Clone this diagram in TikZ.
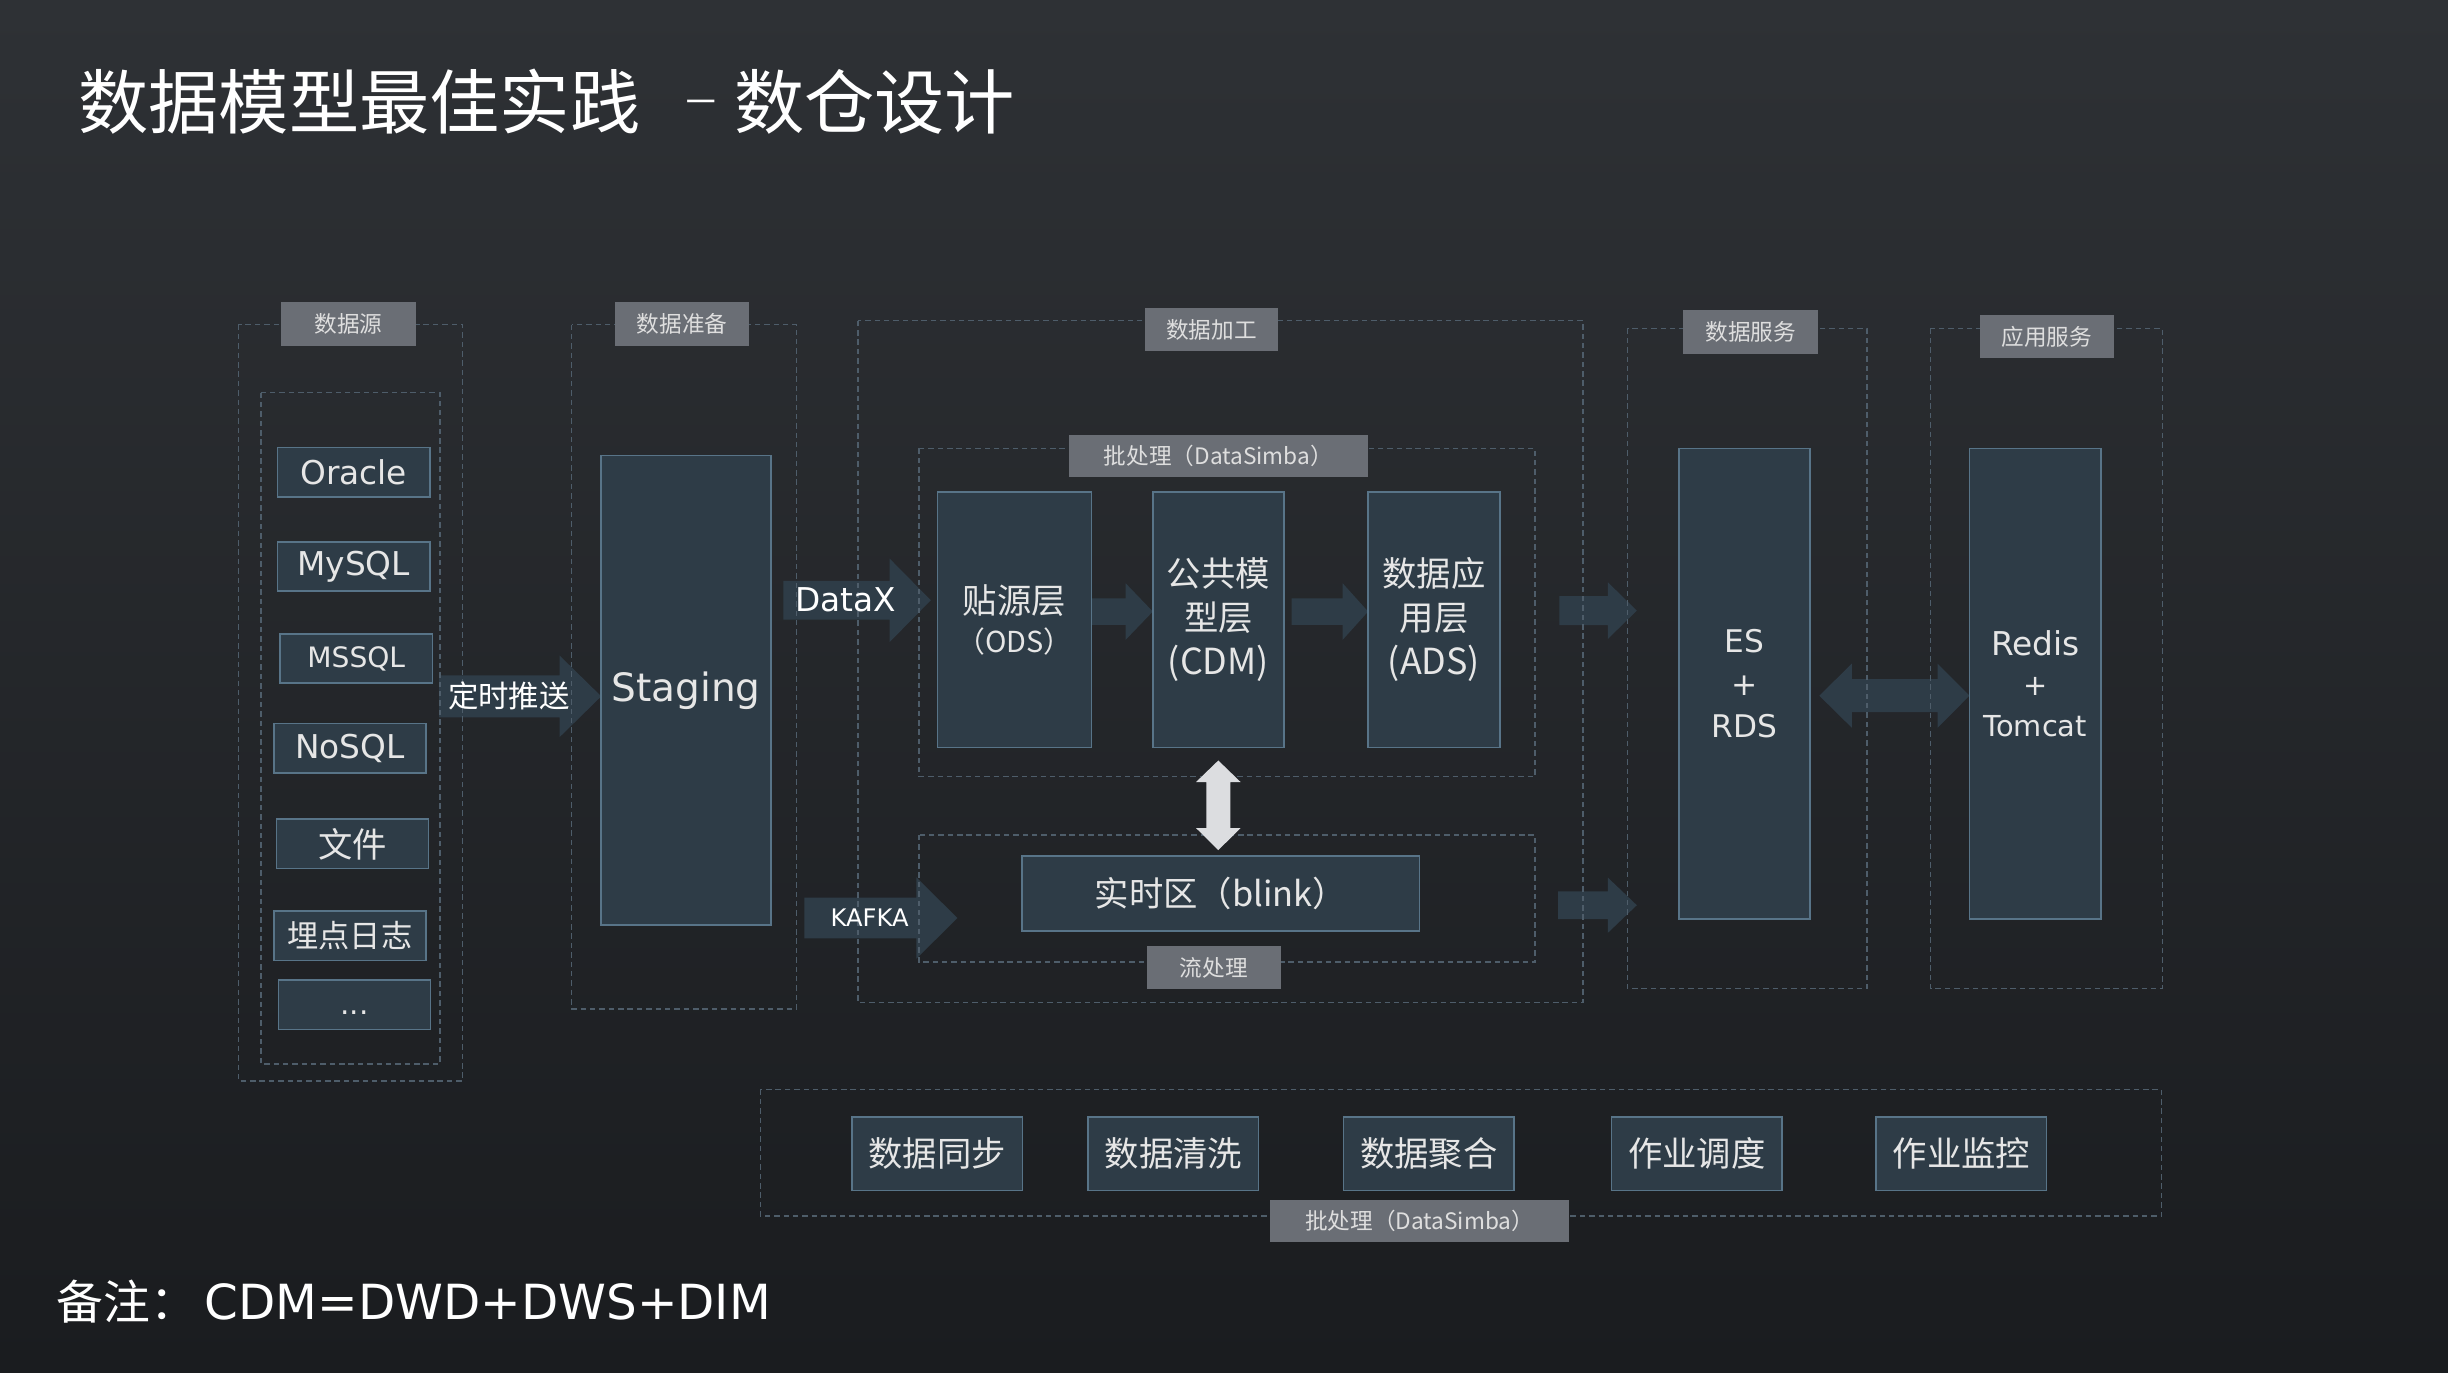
\documentclass[tikz,border=0pt]{standalone}
\usepackage{fontspec}
\setmainfont{Noto Sans CJK SC}
\newfontfamily\latf{DejaVu Sans}
\usetikzlibrary{calc}
\definecolor{bgtop}{RGB}{46,49,53}
\definecolor{bgbot}{RGB}{26,28,31}
\definecolor{dashc}{RGB}{78,93,106}
\definecolor{tagfill}{RGB}{106,110,117}
\definecolor{tagtext}{RGB}{222,222,222}
\definecolor{boxfill}{RGB}{46,60,71}
\definecolor{boxline}{RGB}{88,116,136}
\definecolor{boxtext}{RGB}{230,230,230}
\definecolor{lightarrow}{RGB}{220,221,224}
\newcommand{\fsz}[2]{\fontsize{#1}{#2}\selectfont}
% block arrow: style, from, to, body half, head half, head length
\newcommand{\blockarrow}[6]{%
  \fill[#1] let \p1=(#2), \p2=(#3) in
   (\x1,\y2+#4pt) -- (\x2-#6pt,\y2+#4pt) -- (\x2-#6pt,\y2+#5pt) -- (\x2,\y2)
   -- (\x2-#6pt,\y2-#5pt) -- (\x2-#6pt,\y2-#4pt) -- (\x1,\y2-#4pt) -- cycle;}
\tikzset{
  grp/.style={draw=dashc, line width=0.9pt, dash pattern=on 3.5pt off 2.5pt},
  tag/.style={fill=tagfill, text=tagtext, inner sep=0pt, font=\fsz{14.5}{17}},
  box/.style={draw=boxline, fill=boxfill, line width=1pt, inner sep=0pt, text=boxtext, align=center},
  srcbox/.style={box, minimum width=97.5pt, minimum height=31.6pt},
  botbox/.style={box, minimum width=109.2pt, minimum height=47.1pt, font=\fsz{22}{26}},
  darrow/.style={fill=boxfill},
  arrowtext/.style={text=white, inner sep=0pt},
}
\begin{document}
\begin{tikzpicture}[x=1pt,y=-1pt]
\useasboundingbox (0,0) rectangle (1568,879);
\shade[top color=bgtop, bottom color=bgbot] (0,0) rectangle (1568,879);

% ---------- title and note ----------
\node[anchor=west, text=white, inner sep=0pt, font=\fsz{45}{54}] (title) at (50,65) {数据模型最佳实践\hspace{27pt}\raisebox{8pt}{\fsz{24}{24}－}\hspace{9pt}数仓设计};
\node[anchor=west, text=white, inner sep=0pt, font=\fsz{30}{36}] (note) at (36,834) {备注：\hspace{5pt}{\latf\fsz{31}{36}CDM=DWD+DWS+DIM}};

% ---------- arrow coordinates ----------
\coordinate (ta1) at (281.3,446);   \coordinate (ta2) at (385.1,446);
\coordinate (dx1) at (501.7,384.5); \coordinate (dx2) at (596.2,384.5);
\coordinate (kf1) at (515.2,588);   \coordinate (kf2) at (613.2,588);
\coordinate (oc1) at (699.2,391.7); \coordinate (oc2) at (738.4,391.7);
\coordinate (ca1) at (827.3,391.7); \coordinate (ca2) at (876.3,391.7);
\coordinate (ur1) at (998.8,391.1); \coordinate (ur2) at (1048.4,391.1);
\coordinate (lr1) at (998.0,579.8); \coordinate (lr2) at (1048.4,579.8);
\coordinate (dh1) at (1165.3,445.6); \coordinate (dh2) at (1261.5,445.6);
\coordinate (dv1) at (780.35,487.1); \coordinate (dv2) at (780.35,544.5);

% ---------- dark block arrows (under dashed frames) ----------
\blockarrow{darrow}{ta1}{ta2}{13.45}{26.15}{26.7}
\blockarrow{darrow}{dx1}{dx2}{12.4}{26.75}{26.4}
\blockarrow{darrow}{kf1}{kf2}{13.1}{26.05}{26.2}
\blockarrow{darrow}{oc1}{oc2}{8.5}{18.1}{17.4}
\blockarrow{darrow}{ca1}{ca2}{8.5}{18.1}{16.3}
\blockarrow{darrow}{ur1}{ur2}{9.25}{18.1}{18.5}
\blockarrow{darrow}{lr1}{lr2}{8.85}{17.65}{18.5}
% double horizontal arrow
\fill[darrow] let \p1=(dh1), \p2=(dh2) in
  (\x1,\y1) -- (\x1+20.8pt,\y1+20.5pt) -- (\x1+20.8pt,\y1+10.55pt) -- (\x2-20.4pt,\y1+10.55pt)
  -- (\x2-20.4pt,\y1+20.5pt) -- (\x2,\y1) -- (\x2-20.4pt,\y1-20.5pt) -- (\x2-20.4pt,\y1-10.55pt)
  -- (\x1+20.8pt,\y1-10.55pt) -- (\x1+20.8pt,\y1-20.5pt) -- cycle;

% ---------- dashed frames ----------
\draw[grp] (152.7,207.9) rectangle (296.2,692.4);
\draw[grp] (167.2,251.5) rectangle (281.8,681.5);
\draw[grp] (366.2,207.9) rectangle (510.3,646.2);
\draw[grp] (549.5,205.4) rectangle (1013.9,642.1);
\draw[grp] (588.7,287.2) rectangle (983.2,497.4);
\draw[grp] (588.7,534.8) rectangle (983.2,616.2);
\draw[grp] (1042.3,210.4) rectangle (1195.8,633.3);
\draw[grp] (1236.6,210.4) rectangle (1385.1,633.3);
\draw[grp] (487.0,697.8) rectangle (1384.5,778.9);

% ---------- tags ----------
\node[tag, minimum width=86pt, minimum height=28pt] (t1) at (223.3,207.4) {数据源};
\node[tag, minimum width=86pt, minimum height=28pt] (t2) at (437.0,207.4) {数据准备};
\node[tag, minimum width=85.6pt, minimum height=27.6pt] (t3) at (776.0,211.3) {数据加工};
\node[tag, minimum width=191.8pt, minimum height=27.1pt] (t4) at (780.4,291.9) {批处理（DataSimba）};
\node[tag, minimum width=86.3pt, minimum height=27.3pt] (t5) at (777.5,619.7) {流处理};
\node[tag, minimum width=86.3pt, minimum height=28.3pt] (t6) at (1121.4,212.8) {数据服务};
\node[tag, minimum width=86pt, minimum height=27.6pt] (t7) at (1311.0,215.7) {应用服务};
\node[tag, minimum width=191.7pt, minimum height=27.1pt] (t8) at (909.3,782.2) {批处理（DataSimba）};

% ---------- source boxes ----------
\node[srcbox, font=\latf\fsz{21}{25}] (oracle) at (226.5,302.5) {Oracle};
\node[srcbox, font=\latf\fsz{21}{25}] (mysql) at (226.5,362.8) {MySQL};
\node[srcbox, font=\latf\fsz{18}{22}] (mssql) at (228.2,421.8) {MSSQL};
\node[srcbox, font=\latf\fsz{21}{25}] (nosql) at (224.1,479.2) {NoSQL};
\node[srcbox, font=\fsz{22}{25}] (file) at (225.8,540.5) {文件};
\node[srcbox, font=\fsz{20}{24}] (log) at (224.1,599.3) {埋点日志};
\node[srcbox, font=\latf\fsz{19}{22}, text height=12pt, text depth=0pt] (more) at (227.0,643.5) {...};

% ---------- main boxes ----------
\node[box, minimum width=108.8pt, minimum height=300.9pt, font=\latf\fsz{25}{30}] (staging) at (439.5,442.2) {Staging};
\node[box, minimum width=98.8pt, minimum height=163.5pt, font=\fsz{22}{25}] (ods) at (649.8,396.9) {贴源层\\{\fsz{18.5}{25}（ODS）}};
\node[box, minimum width=84pt, minimum height=163.5pt, font=\fsz{22}{28}] (cdm) at (780.4,396.9) {公共模\\型层\\{\fsz{23}{28}(CDM)}};
\node[box, minimum width=84.3pt, minimum height=163.5pt, font=\fsz{22}{28}] (ads) at (918.5,396.9) {数据应\\用层\\{\fsz{23}{28}(ADS)}};
\node[box, minimum width=254.6pt, minimum height=47.9pt, font=\fsz{22}{26}] (rt) at (782.0,572.3) {实时区（blink）};
\node[box, minimum width=84.2pt, minimum height=301.4pt, font=\latf\fsz{20}{27.2}] (es) at (1117.4,437.9) {ES\\+\\RDS};
\node[box, minimum width=84.1pt, minimum height=301.4pt, font=\latf\fsz{18.5}{26}] (redis) at (1303.6,437.9) {{\fsz{21}{26}Redis}\\+\\Tomcat};

% ---------- bottom boxes ----------
\node[botbox] (b1) at (600.2,738.9) {数据同步};
\node[botbox] (b2) at (751.6,738.9) {数据清洗};
\node[botbox] (b3) at (915.1,738.9) {数据聚合};
\node[botbox] (b4) at (1086.9,738.9) {作业调度};
\node[botbox] (b5) at (1256.3,738.9) {作业监控};

% ---------- light double vertical arrow ----------
\fill[lightarrow] let \p1=(dv1), \p2=(dv2) in
  (\x1,\y1) -- (\x1+14.25pt,\y1-13.8pt) -- (\x1+7.65pt,\y1-13.8pt) -- (\x1+7.65pt,\y2+14.1pt)
  -- (\x1+14.25pt,\y2+14.1pt) -- (\x1,\y2) -- (\x1-14.25pt,\y2+14.1pt) -- (\x1-7.65pt,\y2+14.1pt)
  -- (\x1-7.65pt,\y1-13.8pt) -- (\x1-14.25pt,\y1-13.8pt) -- cycle;

% ---------- arrow labels ----------
\node[arrowtext, font=\fsz{19.5}{23}] (lbl1) at (326,446) {定时推送};
\node[arrowtext, font=\latf\fsz{21}{25}] (lbl2) at (541.5,384) {DataX};
\node[arrowtext, font=\latf\fsz{15.5}{19}] (lbl3) at (557,588) {KAFKA};
\end{tikzpicture}
\end{document}
